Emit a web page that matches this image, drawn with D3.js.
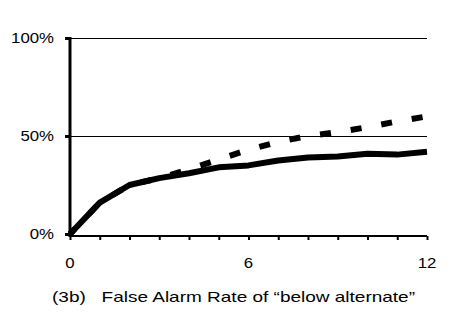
<!DOCTYPE html>
<html><head><meta charset="utf-8">
<script src="https://cdn.jsdelivr.net/npm/d3@7"></script>
<style>html,body{margin:0;padding:0;background:#fff;}svg{display:block;}</style>
</head><body>
<script>
const xValues = [0,1,2,3,4,5,6,7,8,9,10,11,12];
const solidSeries = [0,16,25,28.5,31,34,35,37.5,39,39.5,41,40.5,42];
const dashedSeries = [0,16,25,28.5,33,38,43,47,50,52,54.5,57.5,60];
const yTicks = [0,50,100];
const yTickLabels = ["0%","50%","100%"];
const xTickLabels = [0,6,12];
const title = "(3b)   False Alarm Rate of \u201cbelow alternate\u201d";

const W=456,H=334;
const svg=d3.select("body").append("svg").attr("width",W).attr("height",H);
const x=d3.scaleLinear().domain([0,12]).range([70,427]);
const y=d3.scaleLinear().domain([0,100]).range([234,38]);
const font="Liberation Sans, Arial, sans-serif";
const stretch=1.2;

// gridlines
svg.append("g").selectAll("line").data([50,100]).join("line")
  .attr("x1",x(0)).attr("x2",x(12)).attr("y1",d=>Math.round(y(d))+0.5).attr("y2",d=>Math.round(y(d))+0.5)
  .attr("stroke","#000").attr("stroke-width",1).attr("shape-rendering","crispEdges");

// x axis
const xAxis=d3.axisBottom(x).tickValues(xValues).tickSize(4).tickFormat("");
const gx=svg.append("g").attr("transform",`translate(0,${y(0)+2})`).call(xAxis);
gx.select(".domain").attr("stroke","#000").attr("stroke-width",2).attr("d",`M${x(0)},0H${x(12)}`);
gx.selectAll(".tick line").attr("stroke","#000").attr("stroke-width",2);
svg.append("g").selectAll("text").data(xTickLabels).join("text")
  .attr("transform",d=>`translate(${x(d)},268) scale(${stretch},1)`).attr("text-anchor","middle")
  .attr("font-family",font).attr("font-size",14).text(d=>d);

// y axis
const yAxis=d3.axisLeft(y).tickValues(yTicks).tickSize(5).tickFormat("");
const gy=svg.append("g").attr("transform",`translate(${x(0)},0)`).call(yAxis);
gy.select(".domain").attr("stroke","#000").attr("stroke-width",3).attr("d",`M0,${y(100)-1}V${y(0)+3}`);
gy.selectAll(".tick line").attr("stroke","#000").attr("stroke-width",3);
svg.append("g").selectAll("text").data(yTicks).join("text")
  .attr("transform",d=>`translate(54,${y(d)+5}) scale(${stretch},1)`).attr("text-anchor","end")
  .attr("font-family",font).attr("font-size",14).text((d,i)=>yTickLabels[i]);

const line=d3.line().x((d,i)=>x(xValues[i])).y(d=>y(d));
const dashed=svg.append("path").datum(dashedSeries).attr("d",line).attr("fill","none")
  .attr("stroke","#000").attr("stroke-width",6);
const L=dashed.node().getTotalLength();
const P=31,D=11;
const off=(((Math.ceil(L/P)*P + D - L + 4.5) % P)+P)%P;
dashed.attr("stroke-dasharray",`${D},${P-D}`).attr("stroke-dashoffset",off);
svg.append("path").datum(solidSeries).attr("d",line).attr("fill","none")
  .attr("stroke","#000").attr("stroke-width",6).attr("stroke-linejoin","round");

svg.append("text").attr("x",52).attr("y",302).attr("text-anchor","start")
  .attr("font-family",font).attr("font-size",15).attr("xml:space","preserve").style("white-space","pre")
  .attr("textLength",363).attr("lengthAdjust","spacingAndGlyphs").text(title);
</script>
</body></html>
